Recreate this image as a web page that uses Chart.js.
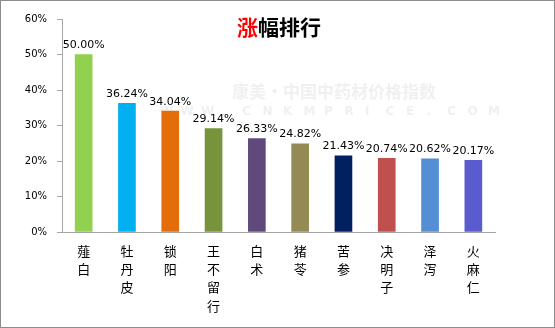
<!DOCTYPE html>
<html>
<head>
<meta charset="utf-8">
<script src="https://cdn.jsdelivr.net/npm/chart.js@4.4.1/dist/chart.umd.min.js"></script>
<style>
  html, body { margin: 0; padding: 0; background: #fff; }
  #wrap { width: 555px; height: 328px; position: relative; }
</style>
</head>
<body>
<div id="wrap"><canvas id="rankChart" width="555" height="328"></canvas></div>
<script>
// data
const herbs = ["薤白", "牡丹皮", "锁阳", "王不留行", "白术", "猪苓", "苦参", "决明子", "泽泻", "火麻仁"];
const gains = [50.00, 36.24, 34.04, 29.14, 26.33, 24.82, 21.43, 20.74, 20.62, 20.17];
const barColors = ["#92D050", "#00B0F0", "#E46C0A", "#77933C", "#604A7B",
                   "#948A54", "#002060", "#C0504D", "#558ED5", "#5B5BD0"];
const yTicks = [0, 10, 20, 30, 40, 50, 60];

const cjk = '"Noto Sans CJK SC", sans-serif';
const latin = '"DejaVu Sans", sans-serif';

// frame, title, watermark and value labels
const decor = {
    id: "decor",
    beforeDatasetsDraw(chart) {
        const c = chart.ctx;
        c.save();
        c.fillStyle = "#f0f0f0";
        c.textAlign = "left";
        c.textBaseline = "middle";
        c.font = "bold 17px " + cjk;
        c.fillText("康美·中国中药材价格指数", 232, 92);
        c.font = "bold 12px " + latin;
        const w = "WWW.CNKMPRICE.COM".split("");
        w.forEach(function (ch, i) { c.fillText(ch, 160 + i * 20.5, 112); });
        c.restore();
    },
    afterDraw(chart) {
        const c = chart.ctx;
        c.save();
        c.strokeStyle = "#8c8c8c";
        c.lineWidth = 1;
        c.strokeRect(0.5, 0.5, 554, 327);

        // title: first char red
        c.font = "bold 21px " + cjk;
        c.textBaseline = "middle";
        c.textAlign = "left";
        const a = "涨", b = "幅排行";
        const wa = c.measureText(a).width, wb = c.measureText(b).width;
        let x0 = 279 - (wa + wb) / 2;
        c.fillStyle = "#ff0000";
        c.fillText(a, x0, 27);
        c.fillStyle = "#000";
        c.fillText(b, x0 + wa, 27);

        // value labels above bars
        const meta = chart.getDatasetMeta(0);
        c.font = "11px " + latin;
        c.textAlign = "center";
        c.textBaseline = "bottom";
        c.fillStyle = "#000";
        meta.data.forEach(function (bar, i) {
            c.fillText(gains[i].toFixed(2) + "%", bar.x, bar.y - 4);
        });
        c.restore();
    }
};

new Chart(document.getElementById("rankChart").getContext("2d"), {
    type: "bar",
    data: {
        labels: herbs.map(function (s) { return s.split(""); }),
        datasets: [{
            data: gains,
            backgroundColor: barColors,
            barThickness: 17
        }]
    },
    options: {
        responsive: false,
        animation: false,
        layout: { padding: { top: 19, left: 0, right: 60, bottom: 0 } },
        plugins: {
            legend: { display: false },
            tooltip: { enabled: false }
        },
        scales: {
            x: {
                grid: { display: false },
                border: { display: true, color: "#a6a6a6", width: 1 },
                ticks: {
                    color: "#000",
                    font: { family: cjk, size: 13, lineHeight: 1.4 },
                    padding: 2,
                    maxRotation: 0,
                    autoSkip: false
                },
                afterFit(scale) { scale.height = 96; }
            },
            y: {
                min: 0,
                max: 60,
                afterBuildTicks(scale) {
                    scale.ticks = yTicks.map(function (v) { return { value: v }; });
                },
                grid: {
                    drawOnChartArea: false,
                    drawTicks: true,
                    tickLength: 5,
                    color: "#a6a6a6"
                },
                border: { display: true, color: "#a6a6a6", width: 1 },
                ticks: {
                    color: "#000",
                    font: { family: latin, size: 10 },
                    padding: 10,
                    callback: function (v) { return v + "%"; }
                },
                afterFit(scale) { scale.width = 62; }
            }
        }
    },
    plugins: [decor]
});
</script>
</body>
</html>
